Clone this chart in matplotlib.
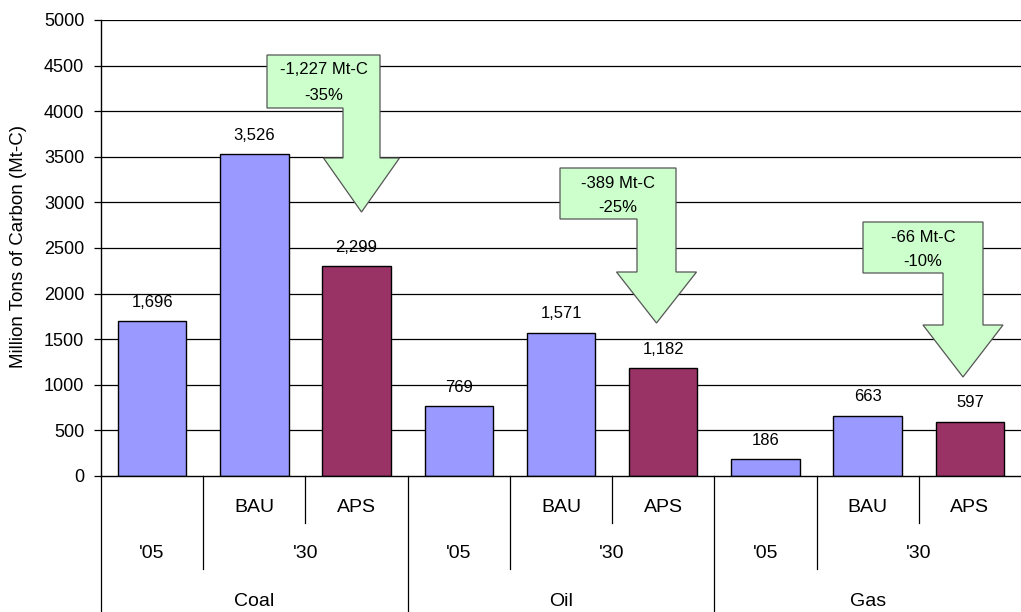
import matplotlib
matplotlib.use("Agg")
import matplotlib.pyplot as plt
from matplotlib.patches import Polygon
from matplotlib import font_manager
import matplotlib.transforms as mtransforms

# ---------------- data ----------------
fuels = ["Coal", "Oil", "Gas"]
year_labels = ["'05", "'30"]
scenario_labels = ["", "BAU", "APS"]
coal_values = [1696, 3526, 2299]
oil_values = [769, 1571, 1182]
gas_values = [186, 663, 597]
reduction_mt = ["-1,227 Mt-C", "-389 Mt-C", "-66 Mt-C"]
reduction_pct = ["-35%", "-25%", "-10%"]
y_ticks = [0, 500, 1000, 1500, 2000, 2500, 3000, 3500, 4000, 4500, 5000]
y_label = "Million Tons of Carbon (Mt-C)"

# ---------------- style ----------------
names = {f.name for f in font_manager.fontManager.ttflist}
base_font = "Liberation Sans" if "Liberation Sans" in names else "DejaVu Sans"
plt.rcParams["font.family"] = [base_font, "DejaVu Sans"]

blue = "#9999FF"
plum = "#993366"
green = "#CCFFCC"

W, H = 1021, 612
fig = plt.figure(figsize=(W / 100, H / 100), dpi=100)
ax_left, ax_right, ax_top, ax_bottom = 101, 1021, 20, 476
ax = fig.add_axes([ax_left / W, 1 - ax_bottom / H, (ax_right - ax_left) / W, (ax_bottom - ax_top) / H])

all_values = [coal_values, oil_values, gas_values]
values = [v for group in all_values for v in group]
colors = [blue, blue, plum] * len(fuels)
xs = list(range(len(values)))

ax.set_axisbelow(True)
for y in y_ticks[1:]:
    ax.axhline(y, color="black", lw=0.9, zorder=0)

ax.bar(xs, values, width=0.67, color=colors, edgecolor="black", linewidth=1.0, zorder=2)

for x, v in zip(xs, values):
    ax.annotate(f"{v:,}", (x, v), xytext=(0, 13.5), textcoords="offset points",
                ha="center", va="center", fontsize=12, zorder=5)

ax.set_xlim(-0.5, len(values) - 0.5)
ax.set_ylim(0, 5000)
ax.set_yticks(y_ticks)
ax.tick_params(axis="y", length=5, width=0.9, pad=7, labelsize=13, direction="out")
ax.set_xticks([])
for s in ["top", "right"]:
    ax.spines[s].set_visible(False)
ax.spines["left"].set_linewidth(1.0)
ax.spines["bottom"].set_linewidth(1.0)

fig.text(19 / W, 1 - 246 / H, y_label, rotation=90, ha="center", va="center", fontsize=13.5)

# ---------------- multi-level category axis ----------------
trans = mtransforms.blended_transform_factory(ax.transData, ax.transAxes)
def ay(py):
    return (ax_bottom - py) / (ax_bottom - ax_top)

row1, row2, row3 = ay(508), ay(554), ay(601)
end1, end2, end3 = ay(523), ay(569), ay(612)

cat_fs = 14
line_kw = dict(color="black", lw=0.9, transform=trans, clip_on=False)
ax.plot([-0.5, -0.5], [0, end3], **line_kw)
for fi, fuel in enumerate(fuels):
    base = fi * 3
    for si, sc in enumerate(scenario_labels):
        if sc:
            ax.text(base + si, row1, sc, transform=trans, ha="center", va="center", fontsize=cat_fs)
    ax.text(base, row2, year_labels[0], transform=trans, ha="center", va="center", fontsize=cat_fs)
    ax.text(base + 1.5, row2, year_labels[1], transform=trans, ha="center", va="center", fontsize=cat_fs)
    ax.text(base + 1, row3, fuel, transform=trans, ha="center", va="center", fontsize=cat_fs)
    ax.plot([base + 1.5, base + 1.5], [0, end1], **line_kw)
    ax.plot([base + 0.5, base + 0.5], [0, end2], **line_kw)
    if fi < len(fuels) - 1:
        ax.plot([base + 2.5, base + 2.5], [0, end3], **line_kw)

# ---------------- reduction arrows ----------------
def px2x(px):
    return (px - ax_left) / ((ax_right - ax_left) / len(values)) - 0.5

def py2y(py):
    return (ax_bottom - py) * 5000 / (ax_bottom - ax_top)

arrow_geoms = [
    # box_left, box_right, box_top, box_bottom, shaft_left, head_half, head_base, tip
    (267, 380, 55, 108, 343, 38, 158, 212),
    (560, 676, 168, 219, 637, 40, 272, 323),
    (863, 983, 222, 273, 943, 40, 325, 377),
]
for (bl, br, bt, bb, sl, hh, hb, tip), mt, pct in zip(arrow_geoms, reduction_mt, reduction_pct):
    cx = (sl + br) / 2
    pts_px = [(bl, bt), (br, bt), (br, hb), (cx + hh, hb), (cx, tip), (cx - hh, hb),
              (sl, hb), (sl, bb), (bl, bb)]
    pts = [(px2x(a), py2y(b)) for a, b in pts_px]
    ax.add_patch(Polygon(pts, closed=True, facecolor=green, edgecolor="#555555",
                         lw=0.9, zorder=6, clip_on=False))
    tx = px2x((bl + br) / 2)
    ax.text(tx, py2y(bt + 15), mt, ha="center", va="center", fontsize=12, zorder=7)
    ax.text(tx, py2y(bt + 40), pct, ha="center", va="center", fontsize=12, zorder=7)

fig.savefig("out.png", dpi=100)
